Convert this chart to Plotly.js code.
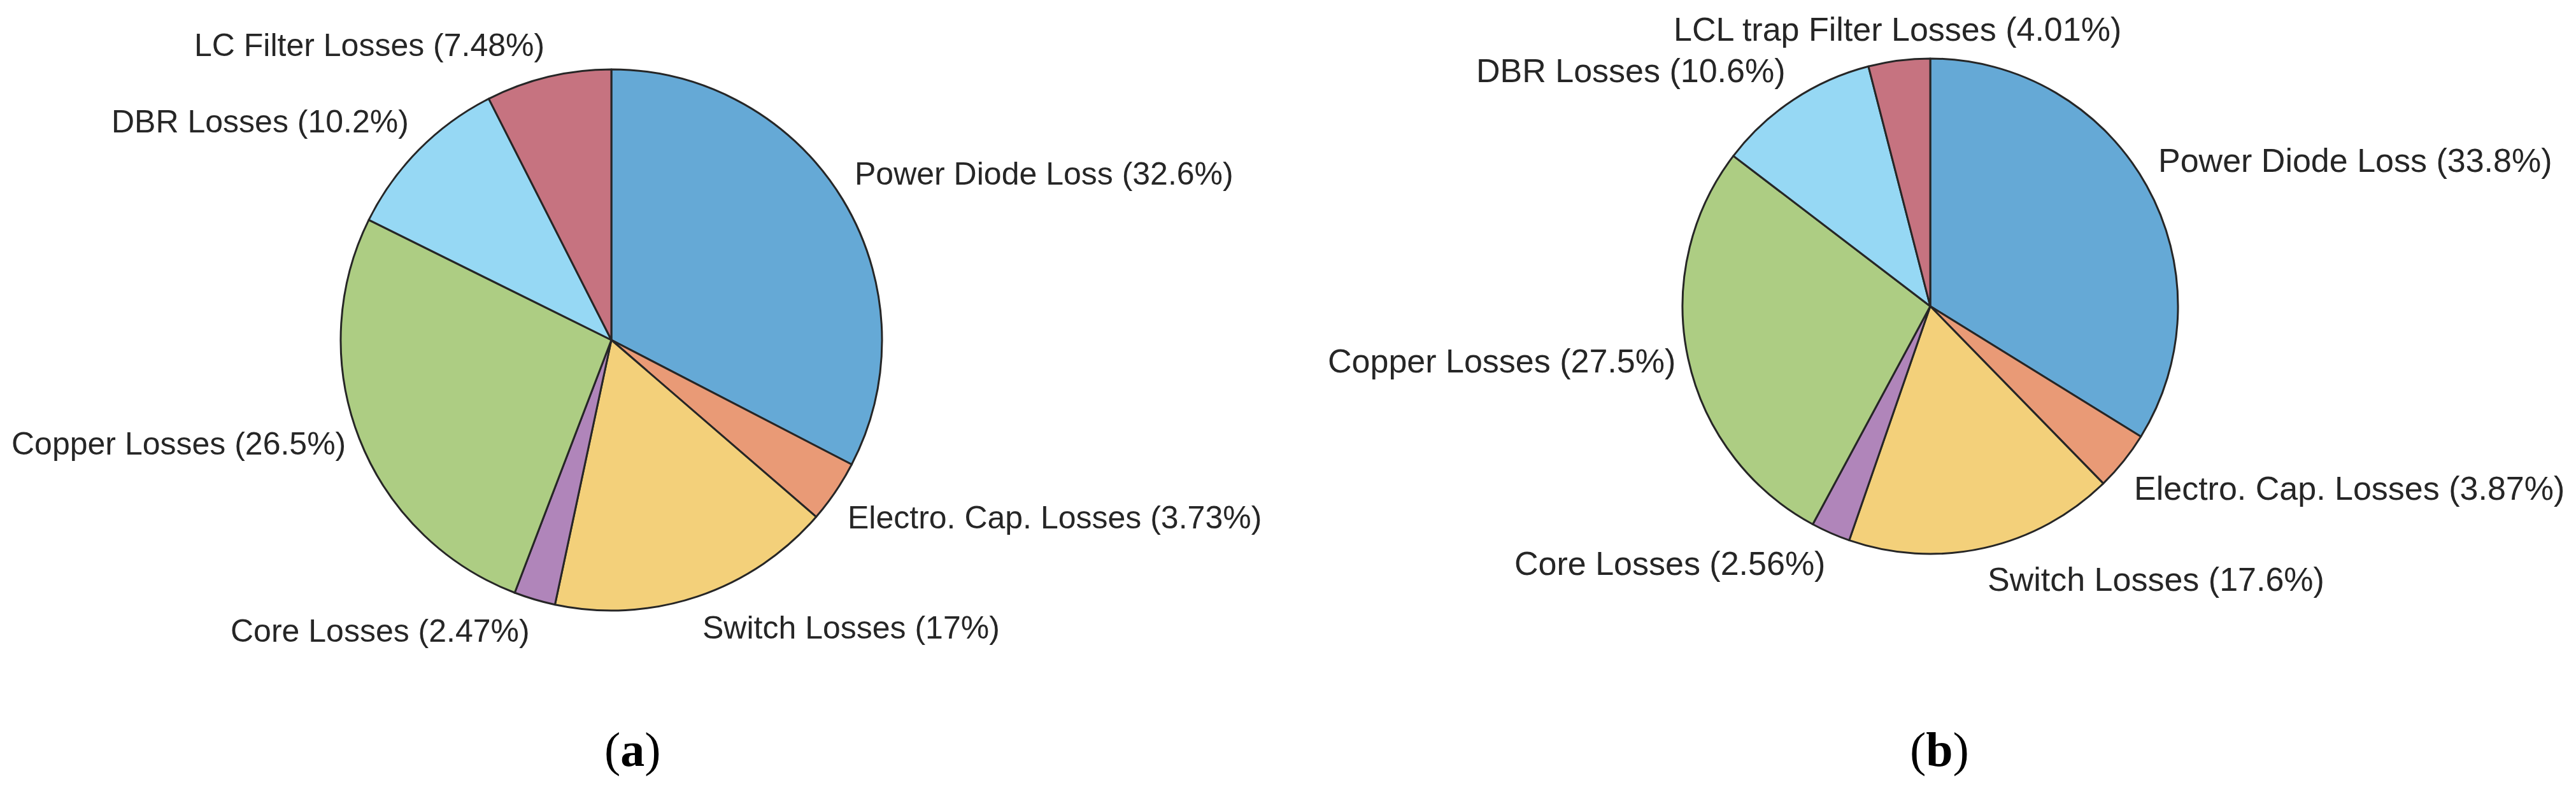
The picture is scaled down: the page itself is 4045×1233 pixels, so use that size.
<!DOCTYPE html>
<html>
<head>
<meta charset="utf-8">
<script src="https://cdn.plot.ly/plotly-3.0.1.min.js"></script>
<style>
  html, body { margin: 0; padding: 0; background: #ffffff; }
  #loss-pies { width: 4045px; height: 1233px; }
</style>
</head>
<body>
<div id="loss-pies"></div>
<script>
// Loss breakdown, slices listed clockwise from 12 o'clock
const labelsA = ['Power Diode Loss', 'Electro. Cap. Losses', 'Switch Losses', 'Core Losses',
                 'Copper Losses', 'DBR Losses', 'LC Filter Losses'];
const valuesA = [32.6, 3.73, 17, 2.47, 26.5, 10.2, 7.48];

const labelsB = ['Power Diode Loss', 'Electro. Cap. Losses', 'Switch Losses', 'Core Losses',
                 'Copper Losses', 'DBR Losses', 'LCL trap Filter Losses'];
const valuesB = [33.8, 3.87, 17.6, 2.56, 27.5, 10.6, 4.01];

const sliceColors = ['#65A9D6', '#E99A76', '#F3D07A', '#B085BA', '#ADCD83', '#96D8F4', '#C67380'];
const panelTags = ['(a)', '(b)'];

const W = 4045, H = 1233;

// pie placement in pixels (centre and radius)
const pies = [
    { cx: 960, cy: 534, r: 425, labels: labelsA, values: valuesA, fontSize: 50 },
    { cx: 3031, cy: 481, r: 389, labels: labelsB, values: valuesB, fontSize: 52 }
];

function domainOf(p) {
    return {
        x: [(p.cx - p.r) / W, (p.cx + p.r) / W],
        y: [1 - (p.cy + p.r) / H, 1 - (p.cy - p.r) / H]
    };
}

const traces = pies.map(p => ({
    type: 'pie',
    labels: p.labels,
    values: p.values,
    sort: false,
    direction: 'clockwise',
    rotation: 0,
    domain: domainOf(p),
    marker: { colors: sliceColors, line: { color: '#262626', width: 3 } },
    textinfo: 'none',
    hoverinfo: 'skip'
}));

// slice labels, matlab style: just outside the rim at each slice's mid angle
const sliceLabels = [];
pies.forEach(p => {
    const total = p.values.reduce((a, b) => a + b, 0);
    let cum = 0;
    p.values.forEach((v, i) => {
        const mid = (cum + v / 2) / total * 2 * Math.PI;
        cum += v;
        const s = Math.sin(mid), c = Math.cos(mid);
        const px = p.cx + 1.05 * p.r * s;
        const py = p.cy - 1.05 * p.r * c;
        sliceLabels.push({
            text: p.labels[i] + ' (' + v + '%)',
            xref: 'paper', yref: 'paper',
            x: px / W, y: 1 - py / H,
            xanchor: Math.abs(s) < 0.18 ? 'center' : (s > 0 ? 'left' : 'right'),
            yanchor: Math.abs(c) < 0.45 ? 'middle' : (c > 0 ? 'bottom' : 'top'),
            showarrow: false,
            borderpad: 0,
            font: { family: 'Liberation Sans, Arial, sans-serif', size: p.fontSize, color: '#262626' }
        });
    });
});

const tagLabels = panelTags.map((tag, i) => ({
    text: tag.replace(/\((.)\)/, '(<b>$1</b>)'),
    xref: 'paper', yref: 'paper',
    x: i === 0 ? 0.2455 : 0.7528,
    y: 0.045,
    xanchor: 'center', yanchor: 'middle',
    showarrow: false,
    font: { family: 'Liberation Serif, Times New Roman, serif', size: 76, color: '#000000' }
}));

const layout = {
    width: W,
    height: H,
    margin: { l: 0, r: 0, t: 0, b: 0 },
    paper_bgcolor: '#ffffff',
    showlegend: false,
    annotations: sliceLabels.concat(tagLabels)
};

Plotly.newPlot('loss-pies', traces, layout, { displayModeBar: false, staticPlot: true });
</script>
</body>
</html>
